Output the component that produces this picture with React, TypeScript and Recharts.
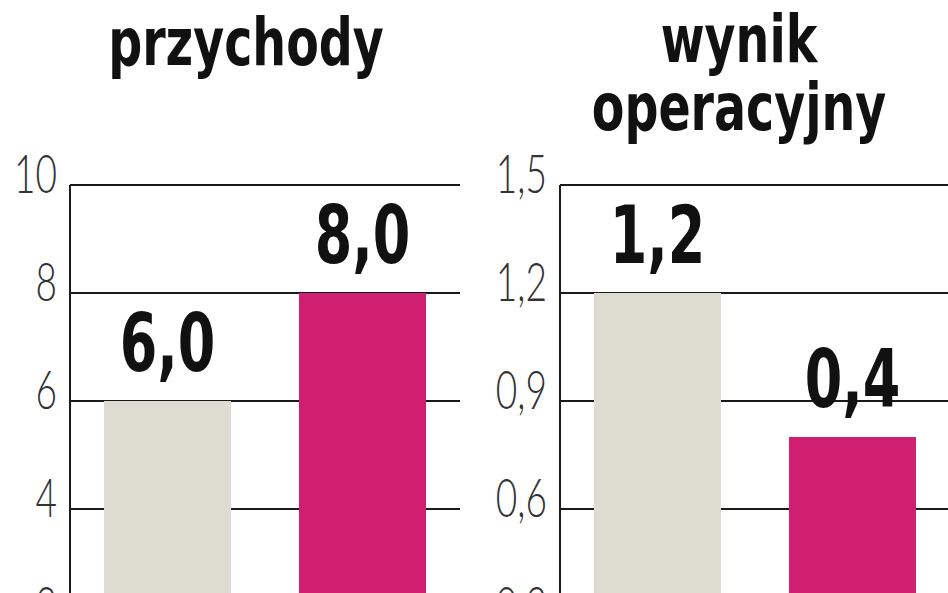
import { Bar, BarChart, CartesianGrid, Cell, LabelList, XAxis, YAxis } from "recharts";

const periods = ["poprzedni", "bieżący"];
const revenueValues = [6.0, 8.0];
const revenueLabels = ["6,0", "8,0"];
const revenueTicks = [0, 2, 4, 6, 8, 10];
const operatingValues = [1.2, 0.8];
const operatingLabels = ["1,2", "0,4"];
const operatingTicks = [0, 0.3, 0.6, 0.9, 1.2, 1.5];
const barColors = ["#dddcd0", "#d01f71"];

const condensed = "'DejaVu Sans Condensed', 'DejaVu Sans', sans-serif";
const thin = "Lato, 'DejaVu Sans Condensed', sans-serif";

const formatTick = (value: number) => String(value).replace(".", ",");

const AxisTick = ({ x = 0, y = 0, payload }: { x?: number; y?: number; payload?: { value?: number } }) => (
  <text
    transform={`translate(${x - 3}, ${y + 8}) scale(0.7, 1)`}
    textAnchor="end"
    fontFamily={thin}
    fontWeight={300}
    fontSize={53}
    fill="#333"
  >
    {formatTick(Number(payload?.value ?? 0))}
  </text>
);

const ValueLabel = (labels: string[]) => (props: any) => {
  const { x = 0, y = 0, width = 0, index = 0 } = props;
  return (
    <text
      transform={`translate(${Number(x) + Number(width) / 2}, ${Number(y) - 30}) scale(0.75, 1)`}
      textAnchor="middle"
      fontFamily={condensed}
      fontWeight={700}
      fontSize={80}
      fill="#111"
    >
      {labels[index]}
    </text>
  );
};

const Panel = ({
  values,
  labels,
  ticks,
  max,
}: {
  values: number[];
  labels: string[];
  ticks: number[];
  max: number;
}) => {
  const data = periods.map((period, i) => ({ period, value: values[i] }));
  return (
    <BarChart
      width={460}
      height={725}
      data={data}
      margin={{ top: 185, right: 0, bottom: 0, left: 0 }}
      barSize={127}
      style={{ overflow: "visible" }}
    >
      <CartesianGrid vertical={false} stroke="#1a1a1a" strokeWidth={2} />
      <XAxis dataKey="period" hide />
      <YAxis
        width={70}
        domain={[0, max]}
        ticks={ticks}
        interval={0}
        axisLine={{ stroke: "#1a1a1a", strokeWidth: 2 }}
        tickLine={false}
        tickSize={0}
        tickMargin={10}
        tick={<AxisTick />}
      />
      <Bar dataKey="value" isAnimationActive={false}>
        {data.map((d, i) => (
          <Cell key={d.period} fill={barColors[i]} />
        ))}
        <LabelList dataKey="value" content={ValueLabel(labels)} />
      </Bar>
    </BarChart>
  );
};

const Title = ({ text, center, top }: { text: string; center: number; top: number }) => (
  <div
    style={{
      position: "absolute",
      left: center - 200,
      top,
      width: 400,
      textAlign: "center",
      fontFamily: condensed,
      fontWeight: 700,
      fontSize: 66,
      lineHeight: "62px",
      color: "#111",
      transform: "scaleX(0.8)",
      transformOrigin: "center",
      whiteSpace: "nowrap",
    }}
  >
    {text}
  </div>
);

export default function App() {
  return (
    <div
      style={{
        position: "absolute",
        left: 0,
        top: 0,
        width: 948,
        height: 593,
        overflow: "hidden",
        background: "#fff",
      }}
    >
      <Title text="przychody" center={246} top={12} />
      <Title text="wynik" center={739} top={9} />
      <Title text="operacyjny" center={739} top={77} />
      <div style={{ position: "absolute", left: 0, top: 0 }}>
        <Panel values={revenueValues} labels={revenueLabels} ticks={revenueTicks} max={10} />
      </div>
      <div style={{ position: "absolute", left: 490, top: 0 }}>
        <Panel values={operatingValues} labels={operatingLabels} ticks={operatingTicks} max={1.5} />
      </div>
    </div>
  );
}
